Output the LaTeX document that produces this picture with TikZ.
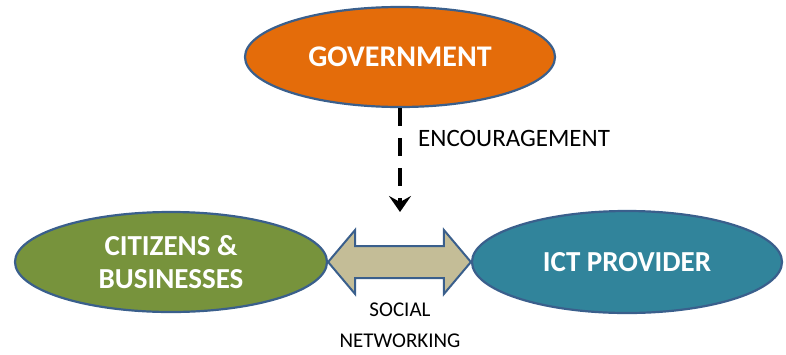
\documentclass[tikz,border=0pt]{standalone}
\usepackage{fontspec}
\setmainfont{Carlito}
\usetikzlibrary{shapes.geometric,arrows.meta,calc}
\definecolor{govorange}{HTML}{E46C0A}
\definecolor{citgreen}{HTML}{77933C}
\definecolor{ictteal}{HTML}{31849B}
\definecolor{edgeblue}{HTML}{3A5F8C}
\definecolor{arrowtan}{HTML}{C4BD97}
\tikzset{
  blob/.style={ellipse, draw=edgeblue, line width=2.2pt, minimum width=310pt, minimum height=100pt, inner sep=0pt, text=white, align=center, font=\fontsize{29}{33}\selectfont\bfseries},
  lbl/.style={font=\fontsize{25}{31}\selectfont, text=black, align=center, inner sep=0pt}
}
\begin{document}
\begin{tikzpicture}[x=1pt,y=-1pt]
\useasboundingbox (0,0) rectangle (786,354);
\node[blob, fill=govorange, font=\fontsize{30}{33}\selectfont\bfseries] (gov) at (400,57) {GOVERNMENT};
\node[blob, fill=citgreen, minimum width=312pt] (cit) at (171,262) {CITIZENS \&\\BUSINESSES};
\node[blob, fill=ictteal, minimum height=102pt] (ict) at (627,262) {ICT PROVIDER};
\coordinate (tip) at (400,212);
\draw[line width=4.5pt, dash pattern=on 18pt off 12pt, -{Stealth[length=16pt,width=22pt,inset=6pt]}] (gov.south) -- (tip);
\node[lbl, anchor=west] (enc) at (418,138) {ENCOURAGEMENT};
\draw[draw=edgeblue, line width=2pt, fill=arrowtan, line join=miter]
  (cit.east) -- ++(27,-32) -- ++(0,16) -- ($(ict.west)+(-27,-16)$) -- ++(0,-16) -- (ict.west)
  -- ++(-27,32) -- ++(0,-16) -- ($(cit.east)+(27,16)$) -- ++(0,16) -- cycle;
\node[lbl, font=\fontsize{21}{31}\selectfont] (soc) at (400,325) {SOCIAL\\NETWORKING};
\end{tikzpicture}
\end{document}
